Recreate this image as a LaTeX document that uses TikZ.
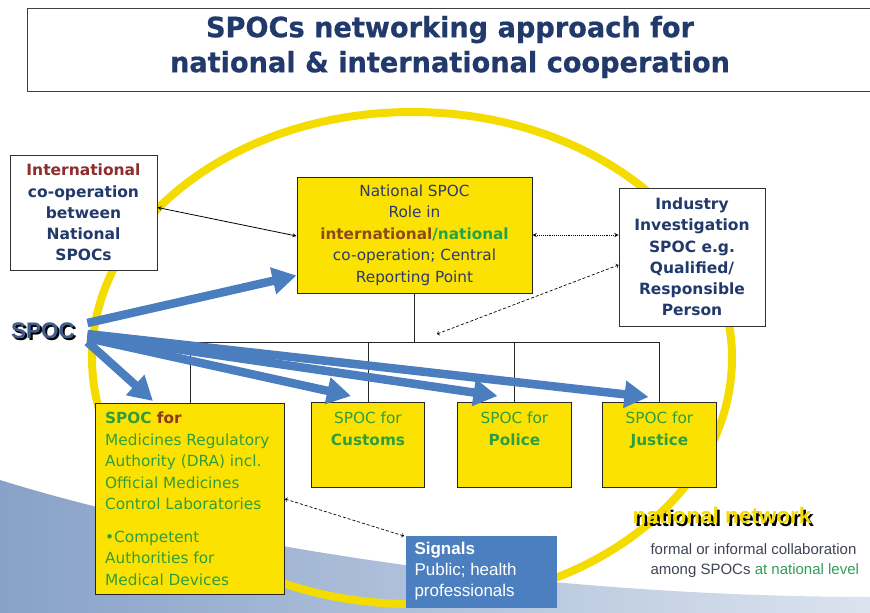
\documentclass[tikz,border=0pt]{standalone}
\usepackage{fontspec}
\setmainfont{DejaVu Sans}
\newfontfamily\titlefont[FakeStretch=0.97,FakeBold=0.6]{DejaVu Sans}
\newfontfamily\arialfont{Liberation Sans}
\usetikzlibrary{arrows,arrows.meta,calc,positioning,shapes}
\definecolor{titleblue}{HTML}{22396B}
\definecolor{navy}{HTML}{22396B}
\definecolor{intlred}{HTML}{8E2D2D}
\definecolor{intlbrown}{HTML}{8B4A1C}
\definecolor{natblue}{HTML}{2E3A6E}
\definecolor{natgreen}{HTML}{22A44A}
\definecolor{spocgreen}{HTML}{2E9E3E}
\definecolor{forbrown}{HTML}{8B3A1A}
\definecolor{boxyellow}{HTML}{FCE200}
\definecolor{ringyellow}{HTML}{F5DC00}
\definecolor{spocblue}{HTML}{4A7EBF}
\definecolor{sigblue}{HTML}{4C7FBF}
\definecolor{spocface}{HTML}{3E5C8E}
\definecolor{greytext}{HTML}{3F4455}
\definecolor{levelgreen}{HTML}{2E9E5A}
\definecolor{bgblue}{HTML}{5F82B5}
\newcommand\boxfont{\fontsize{15.3}{21.5}\selectfont}
\newcommand\boldboxfont{\fontsize{15.5}{21.2}\selectfont\bfseries}
\newcommand\shadowword[3]{\makebox[0pt][l]{\hspace{#3}\raisebox{-#3}{\textcolor{black}{#1}}}\textcolor{#2}{#1}}
\tikzset{%
	titlebox/.style  = {draw=black!75, line width=1.2pt, fill=white, anchor=north west, minimum width=853pt, minimum height=83pt},
	titletext/.style = {align=center, text=titleblue, font=\titlefont\fontsize{28}{35}\selectfont\bfseries},
	whitebox/.style  = {draw=black!80, fill=white, line width=1pt, align=center, text=navy, font=\boldboxfont},
	yellowbox/.style = {draw=black!85, fill=boxyellow, line width=1pt},
	boxtext/.style   = {text=spocgreen, font=\boxfont, inner sep=3pt},
	sigbox/.style    = {fill=sigblue, anchor=north west, minimum width=151pt, minimum height=72pt},
	sigtext/.style   = {text=white, align=left, anchor=north west, font=\arialfont\fontsize{17}{21}\selectfont},
	treeline/.style  = {draw=black!85, line width=1pt},
	spocarrow/.style = {line width=8.5pt, draw=spocblue, -{Triangle[length=24pt,width=26pt]}},
	link/.style      = {line width=0.8pt, <->, >=stealth},
	dotlink/.style   = {line width=0.9pt, densely dotted, <->, >=stealth},
	openlink/.style  = {line width=0.7pt, densely dashed, <->, >=to},
	bigword/.style   = {font=\arialfont\fontsize{22.5}{26}\selectfont\bfseries},
}
\begin{document}
\begin{tikzpicture}[x=1pt,y=-1pt]
	\useasboundingbox (0,0) rectangle (870,613);
	\shade[left color=bgblue, right color=bgblue!30, opacity=0.75] (0,480) .. controls (160,530) and (480,596) .. (870,597) -- (870,613) -- (0,613) -- cycle;
	\draw[ringyellow, line width=8pt] (412,358) ellipse [x radius=320pt, y radius=246pt];
	
	\node[titlebox] (titlebox) at (27,8) {};
	\node[titletext] (title) at (450,47) {SPOCs networking approach for\\national \& international cooperation};
	
	\node[whitebox, minimum width=147pt, minimum height=115pt] (intl) at (83.5,212.5) {\textcolor{intlred}{International}\\co-operation\\between\\National\\SPOCs};
	\node[yellowbox, minimum width=235pt, minimum height=116pt, align=center, text=natblue, font=\boxfont] (nat) at (414.5,235) {National SPOC\\Role in\\\textbf{\textcolor{intlbrown}{international}\textcolor{natgreen}{/national}}\\co-operation; Central\\Reporting Point};
	\node[whitebox, minimum width=146pt, minimum height=138pt] (ind) at (692,257) {Industry\\Investigation\\SPOC e.g.\\Qualified/\\Responsible\\Person};
	
	\node[yellowbox, anchor=north west, minimum width=189pt, minimum height=191pt] (med) at (95,403) {};
	\node[boxtext, anchor=north west, align=left] (medtext) at (102,409) {\textbf{SPOC \textcolor{forbrown}{for}}\\Medicines Regulatory\\Authority (DRA) incl.\\Official Medicines\\Control Laboratories\\[11pt]•Competent\\Authorities for\\Medical Devices};
	\node[yellowbox, anchor=north west, minimum width=113pt, minimum height=85pt] (cus) at (311,402) {};
	\node[boxtext, anchor=north, align=center] (custext) at ([yshift=-7pt]cus.north) {SPOC for\\\textbf{Customs}};
	\node[yellowbox, anchor=north west, minimum width=114pt, minimum height=85pt] (pol) at (457,402) {};
	\node[boxtext, anchor=north, align=center] (poltext) at ([yshift=-7pt]pol.north) {SPOC for\\\textbf{Police}};
	\node[yellowbox, anchor=north west, minimum width=114pt, minimum height=85pt] (jus) at (602,402) {};
	\node[boxtext, anchor=north, align=center] (justext) at ([yshift=-7pt]jus.north) {SPOC for\\\textbf{Justice}};
	
	\node[sigbox] (sig) at (406,536) {};
	\node[sigtext] (sigtext) at (411,539) {\textbf{Signals}\\Public; health\\professionals};
	
	\coordinate (bus) at (0,342);
	\draw[treeline] (nat.south) -- (nat.south |- bus);
	\draw[treeline] (med.north) -- (med.north |- bus) -- (jus.north |- bus) -- (jus.north);
	\draw[treeline] (cus.north) -- (cus.north |- bus);
	\draw[treeline] (pol.north) -- (pol.north |- bus);
	
	\draw[link] ([yshift=5pt]intl.east) -- ([yshift=-1pt]nat.west);
	\draw[dotlink] (nat.east) -- (nat.east -| ind.west);
	\coordinate (dashend) at (437,334);
	\draw[openlink] (dashend) -- ([yshift=-8pt]ind.west);
	\draw[openlink] (med.east) -- ([xshift=-2pt]sig.north west);
	
	\node[bigword] (spoc) at (43,332) {\shadowword{SPOC}{spocface}{2pt}};
	\coordinate (hub) at ([xshift=9pt]spoc.east);
	\draw[spocarrow] ([yshift=9pt]hub) -- ([yshift=18pt]nat.south west);
	\draw[spocarrow] ([yshift=-10pt]hub) -- ([xshift=-37pt,yshift=2pt]med.north);
	\draw[spocarrow] ([yshift=-6pt]hub) -- ([xshift=-17pt,yshift=6pt]cus.north);
	\draw[spocarrow] ([yshift=-4pt]hub) -- ([xshift=-17pt,yshift=6pt]pol.north);
	\draw[spocarrow] ([yshift=-2pt]hub) -- ([xshift=-11pt,yshift=5pt]jus.north);
	
	\node[bigword] (net) at (722,517) {\shadowword{national network}{ringyellow}{2.5pt}};
	\node[anchor=north west, align=left, text=greytext, font=\arialfont\fontsize{15}{20}\selectfont] (collab) at (647,540) {formal or informal collaboration\\among SPOCs \textcolor{levelgreen}{at national level}};
\end{tikzpicture}
\end{document}
